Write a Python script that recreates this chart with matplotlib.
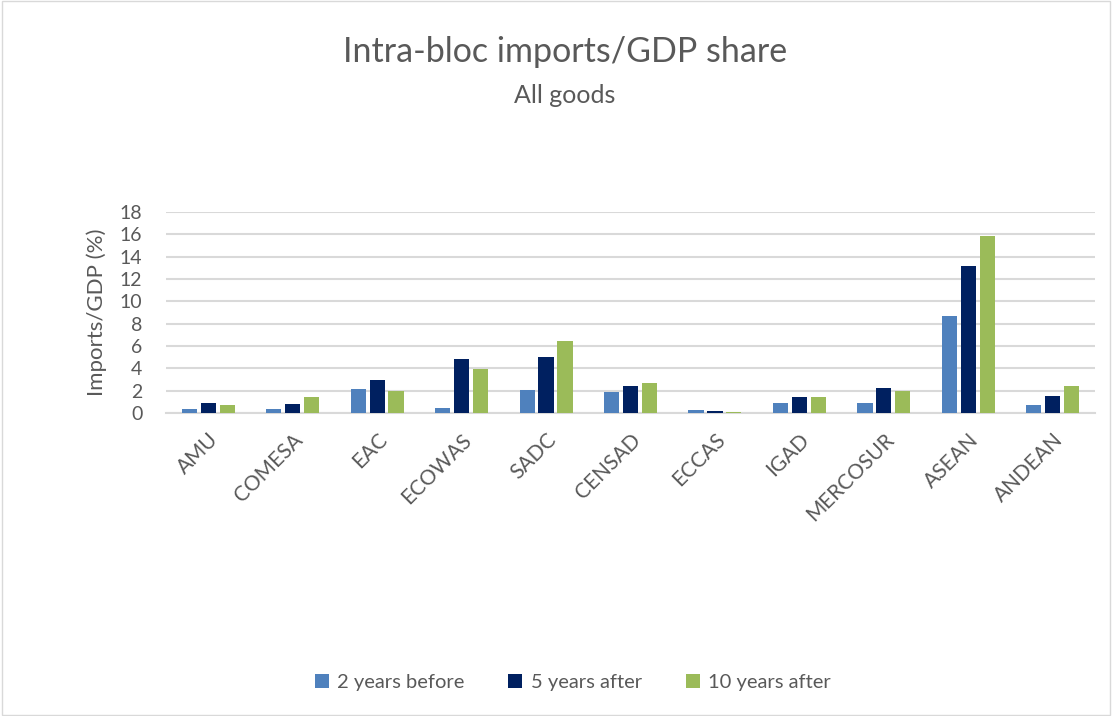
import matplotlib
matplotlib.use("Agg")
import matplotlib.pyplot as plt
import numpy as np

blocs = ["AMU", "COMESA", "EAC", "ECOWAS", "SADC", "CENSAD", "ECCAS",
         "IGAD", "MERCOSUR", "ASEAN", "ANDEAN"]
before2 = [0.39, 0.39, 2.18, 0.45, 2.09, 1.85, 0.30, 0.87, 0.93, 8.69, 0.69]
after5 = [0.90, 0.84, 2.99, 4.84, 5.04, 2.42, 0.18, 1.40, 2.24, 13.19, 1.49]
after10 = [0.69, 1.46, 1.94, 3.97, 6.45, 2.66, 0.12, 1.46, 2.00, 15.82, 2.39]
series_names = ["2 years before", "5 years after", "10 years after"]

plt.rcParams['font.family'] = ['Lato', 'DejaVu Sans']
grey = "#595959"

fig = plt.figure(figsize=(11.12, 7.16), dpi=100)
ax = fig.add_axes([0.1493, 0.4232, 0.8354, 0.2808])

x = np.arange(len(blocs))
w = 0.18
step = 0.224
cols = ["#4F81BD", "#002060", "#9BBB59"]
for k, vals in enumerate([before2, after5, after10]):
    ax.bar(x + (k - 1) * step, vals, w, color=cols[k], label=series_names[k], zorder=3)

ax.set_xlim(-0.5, len(blocs) - 0.5)
ax.set_ylim(0, 18)
ax.set_yticks(range(0, 19, 2))
ax.yaxis.grid(True, color="#D9D9D9", linewidth=1.5, zorder=0)
for s in ["top", "right", "left"]:
    ax.spines[s].set_visible(False)
ax.spines["bottom"].set_color("#D9D9D9")
ax.spines["bottom"].set_linewidth(1.5)
ax.tick_params(axis="both", length=0, colors=grey, labelsize=14)
ax.tick_params(axis="y", pad=17)
ax.tick_params(axis="x", pad=12, labelsize=15)
ax.set_xticks(x)
ax.set_xticklabels(blocs, rotation=45, ha="right", rotation_mode="anchor")
ax.set_ylabel("Imports/GDP (%)", color=grey, fontsize=16, labelpad=9)

fig.text(0.508, 0.927, "Intra-bloc imports/GDP share", ha="center", va="center",
         fontsize=24.5, color=grey)
fig.text(0.508, 0.866, "All goods", ha="center", va="center", fontsize=18, color=grey)

fig.legend(loc="center", bbox_to_anchor=(0.515, 0.047), ncol=3, frameon=False,
           fontsize=14.5, labelcolor=grey, handlelength=0.7, handleheight=0.7,
           columnspacing=2.2, handletextpad=0.4)

fig.patches.append(plt.Rectangle((0.002, 0.002), 0.996, 0.996, transform=fig.transFigure,
                                 fill=False, edgecolor="#D9D9D9", linewidth=1))

fig.savefig("out.png", dpi=100)
